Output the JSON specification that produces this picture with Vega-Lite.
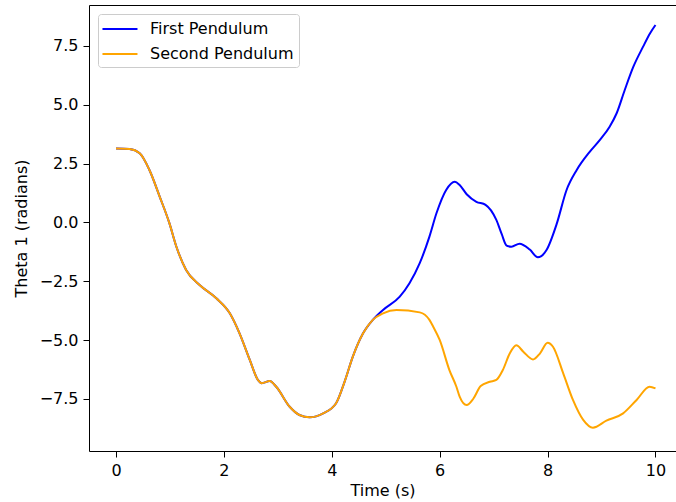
{
  "$schema": "https://vega.github.io/schema/vega-lite/v6.json",
  "width": 587,
  "height": 446,
  "autosize": "none",
  "padding": {"left": 89, "top": 5, "right": 0, "bottom": 51},
  "background": "white",
  "config": {
    "view": {"stroke": null},
    "font": "DejaVu Sans",
    "axis": {
      "grid": false,
      "domainColor": "black",
      "domainWidth": 1,
      "tickColor": "black",
      "tickSize": 6,
      "labelPadding": 5,
      "labelFont": "DejaVu Sans",
      "labelFontSize": 16,
      "labelColor": "black",
      "titleFont": "DejaVu Sans",
      "titleFontSize": 16,
      "titleFontWeight": "normal",
      "titleColor": "black"
    }
  },
  "datasets": {
    "pend": [
      {"t": 0, "theta": 3.14, "series": "First Pendulum"},
      {"t": 0.25, "theta": 3.12, "series": "First Pendulum"},
      {"t": 0.44, "theta": 2.94, "series": "First Pendulum"},
      {"t": 0.62, "theta": 2.23, "series": "First Pendulum"},
      {"t": 0.81, "theta": 1.1, "series": "First Pendulum"},
      {"t": 0.99, "theta": -0.03, "series": "First Pendulum"},
      {"t": 1.12, "theta": -1.03, "series": "First Pendulum"},
      {"t": 1.3, "theta": -2.02, "series": "First Pendulum"},
      {"t": 1.55, "theta": -2.66, "series": "First Pendulum"},
      {"t": 1.86, "theta": -3.22, "series": "First Pendulum"},
      {"t": 2.11, "theta": -3.86, "series": "First Pendulum"},
      {"t": 2.29, "theta": -4.71, "series": "First Pendulum"},
      {"t": 2.48, "theta": -5.84, "series": "First Pendulum"},
      {"t": 2.63, "theta": -6.69, "series": "First Pendulum"},
      {"t": 2.7, "theta": -6.83, "series": "First Pendulum"},
      {"t": 2.85, "theta": -6.74, "series": "First Pendulum"},
      {"t": 2.97, "theta": -6.98, "series": "First Pendulum"},
      {"t": 3.22, "theta": -7.83, "series": "First Pendulum"},
      {"t": 3.4, "theta": -8.18, "series": "First Pendulum"},
      {"t": 3.59, "theta": -8.28, "series": "First Pendulum"},
      {"t": 3.84, "theta": -8.11, "series": "First Pendulum"},
      {"t": 4.08, "theta": -7.68, "series": "First Pendulum"},
      {"t": 4.24, "theta": -6.75, "series": "First Pendulum"},
      {"t": 4.39, "theta": -5.7, "series": "First Pendulum"},
      {"t": 4.58, "theta": -4.71, "series": "First Pendulum"},
      {"t": 4.76, "theta": -4.14, "series": "First Pendulum"},
      {"t": 4.95, "theta": -3.72, "series": "First Pendulum"},
      {"t": 5.26, "theta": -3.15, "series": "First Pendulum"},
      {"t": 5.44, "theta": -2.58, "series": "First Pendulum"},
      {"t": 5.63, "theta": -1.73, "series": "First Pendulum"},
      {"t": 5.81, "theta": -0.6, "series": "First Pendulum"},
      {"t": 5.94, "theta": 0.39, "series": "First Pendulum"},
      {"t": 6.12, "theta": 1.38, "series": "First Pendulum"},
      {"t": 6.28, "theta": 1.73, "series": "First Pendulum"},
      {"t": 6.37, "theta": 1.59, "series": "First Pendulum"},
      {"t": 6.5, "theta": 1.2, "series": "First Pendulum"},
      {"t": 6.68, "theta": 0.88, "series": "First Pendulum"},
      {"t": 6.85, "theta": 0.75, "series": "First Pendulum"},
      {"t": 7.05, "theta": 0.11, "series": "First Pendulum"},
      {"t": 7.15, "theta": -0.5, "series": "First Pendulum"},
      {"t": 7.24, "theta": -0.98, "series": "First Pendulum"},
      {"t": 7.33, "theta": -1.03, "series": "First Pendulum"},
      {"t": 7.48, "theta": -0.9, "series": "First Pendulum"},
      {"t": 7.67, "theta": -1.15, "series": "First Pendulum"},
      {"t": 7.82, "theta": -1.48, "series": "First Pendulum"},
      {"t": 7.98, "theta": -1.17, "series": "First Pendulum"},
      {"t": 8.17, "theta": -0.05, "series": "First Pendulum"},
      {"t": 8.35, "theta": 1.37, "series": "First Pendulum"},
      {"t": 8.54, "theta": 2.23, "series": "First Pendulum"},
      {"t": 8.78, "theta": 3.0, "series": "First Pendulum"},
      {"t": 8.97, "theta": 3.51, "series": "First Pendulum"},
      {"t": 9.15, "theta": 4.07, "series": "First Pendulum"},
      {"t": 9.28, "theta": 4.64, "series": "First Pendulum"},
      {"t": 9.43, "theta": 5.63, "series": "First Pendulum"},
      {"t": 9.59, "theta": 6.62, "series": "First Pendulum"},
      {"t": 9.77, "theta": 7.47, "series": "First Pendulum"},
      {"t": 9.9, "theta": 8.04, "series": "First Pendulum"},
      {"t": 10.0, "theta": 8.39, "series": "First Pendulum"},
      {"t": 0, "theta": 3.14, "series": "Second Pendulum"},
      {"t": 0.25, "theta": 3.12, "series": "Second Pendulum"},
      {"t": 0.44, "theta": 2.94, "series": "Second Pendulum"},
      {"t": 0.62, "theta": 2.23, "series": "Second Pendulum"},
      {"t": 0.81, "theta": 1.1, "series": "Second Pendulum"},
      {"t": 0.99, "theta": -0.03, "series": "Second Pendulum"},
      {"t": 1.12, "theta": -1.03, "series": "Second Pendulum"},
      {"t": 1.3, "theta": -2.02, "series": "Second Pendulum"},
      {"t": 1.55, "theta": -2.66, "series": "Second Pendulum"},
      {"t": 1.86, "theta": -3.22, "series": "Second Pendulum"},
      {"t": 2.11, "theta": -3.86, "series": "Second Pendulum"},
      {"t": 2.29, "theta": -4.71, "series": "Second Pendulum"},
      {"t": 2.48, "theta": -5.84, "series": "Second Pendulum"},
      {"t": 2.63, "theta": -6.69, "series": "Second Pendulum"},
      {"t": 2.7, "theta": -6.83, "series": "Second Pendulum"},
      {"t": 2.85, "theta": -6.74, "series": "Second Pendulum"},
      {"t": 2.97, "theta": -6.98, "series": "Second Pendulum"},
      {"t": 3.22, "theta": -7.83, "series": "Second Pendulum"},
      {"t": 3.4, "theta": -8.18, "series": "Second Pendulum"},
      {"t": 3.59, "theta": -8.28, "series": "Second Pendulum"},
      {"t": 3.84, "theta": -8.11, "series": "Second Pendulum"},
      {"t": 4.08, "theta": -7.68, "series": "Second Pendulum"},
      {"t": 4.24, "theta": -6.75, "series": "Second Pendulum"},
      {"t": 4.39, "theta": -5.7, "series": "Second Pendulum"},
      {"t": 4.58, "theta": -4.71, "series": "Second Pendulum"},
      {"t": 4.76, "theta": -4.14, "series": "Second Pendulum"},
      {"t": 4.95, "theta": -3.86, "series": "Second Pendulum"},
      {"t": 5.2, "theta": -3.72, "series": "Second Pendulum"},
      {"t": 5.63, "theta": -3.82, "series": "Second Pendulum"},
      {"t": 5.81, "theta": -4.14, "series": "Second Pendulum"},
      {"t": 5.88, "theta": -4.43, "series": "Second Pendulum"},
      {"t": 6.0, "theta": -4.99, "series": "Second Pendulum"},
      {"t": 6.18, "theta": -6.27, "series": "Second Pendulum"},
      {"t": 6.31, "theta": -6.98, "series": "Second Pendulum"},
      {"t": 6.37, "theta": -7.4, "series": "Second Pendulum"},
      {"t": 6.5, "theta": -7.76, "series": "Second Pendulum"},
      {"t": 6.62, "theta": -7.5, "series": "Second Pendulum"},
      {"t": 6.76, "theta": -6.95, "series": "Second Pendulum"},
      {"t": 6.93, "theta": -6.77, "series": "Second Pendulum"},
      {"t": 7.05, "theta": -6.69, "series": "Second Pendulum"},
      {"t": 7.17, "theta": -6.27, "series": "Second Pendulum"},
      {"t": 7.3, "theta": -5.56, "series": "Second Pendulum"},
      {"t": 7.42, "theta": -5.22, "series": "Second Pendulum"},
      {"t": 7.55, "theta": -5.49, "series": "Second Pendulum"},
      {"t": 7.73, "theta": -5.82, "series": "Second Pendulum"},
      {"t": 7.86, "theta": -5.56, "series": "Second Pendulum"},
      {"t": 8.0, "theta": -5.11, "series": "Second Pendulum"},
      {"t": 8.1, "theta": -5.28, "series": "Second Pendulum"},
      {"t": 8.29, "theta": -6.41, "series": "Second Pendulum"},
      {"t": 8.47, "theta": -7.54, "series": "Second Pendulum"},
      {"t": 8.66, "theta": -8.39, "series": "Second Pendulum"},
      {"t": 8.84, "theta": -8.72, "series": "Second Pendulum"},
      {"t": 9.09, "theta": -8.42, "series": "Second Pendulum"},
      {"t": 9.4, "theta": -8.11, "series": "Second Pendulum"},
      {"t": 9.65, "theta": -7.54, "series": "Second Pendulum"},
      {"t": 9.89, "theta": -6.98, "series": "Second Pendulum"},
      {"t": 10.0, "theta": -7.05, "series": "Second Pendulum"}
    ]
  },
  "data": {"name": "pend"},
  "resolve": {"axis": {"x": "independent"}},
  "layer": [
    {
      "mark": {"type": "line", "strokeWidth": 2, "interpolate": "monotone", "clip": true},
      "encoding": {
        "x": {
          "field": "t", "type": "quantitative",
          "scale": {"domain": [-0.5, 10.38], "nice": false, "zero": false},
          "axis": {"values": [0, 2, 4, 6, 8, 10], "title": "Time (s)", "titlePadding": 4}
        },
        "y": {
          "field": "theta", "type": "quantitative",
          "scale": {"domain": [-9.71, 9.24], "nice": false, "zero": false},
          "axis": {"values": [-7.5, -5, -2.5, 0, 2.5, 5, 7.5], "format": ".1f", "title": "Theta 1 (radians)", "titlePadding": 10}
        },
        "color": {
          "field": "series", "type": "nominal",
          "scale": {"domain": ["First Pendulum", "Second Pendulum"], "range": ["#0000ff", "#ffa500"]},
          "legend": {
            "orient": "none", "legendX": 9, "legendY": 9, "title": null,
            "symbolType": "M-1.17,0H2.72", "symbolStrokeWidth": 2, "symbolSize": 324,
            "symbolFillColor": "transparent",
            "labelFontSize": 16, "labelFont": "DejaVu Sans", "labelColor": "black",
            "labelOffset": 27, "padding": 5, "rowPadding": 7,
            "strokeColor": "#cccccc", "fillColor": "white", "cornerRadius": 3
          }
        }
      }
    },
    {
      "mark": {"type": "point", "opacity": 0},
      "encoding": {
        "x": {
          "field": "t", "type": "quantitative",
          "scale": {"domain": [-0.5, 10.38], "nice": false, "zero": false},
          "axis": {"orient": "top", "labels": false, "ticks": false, "title": null, "domain": true}
        }
      }
    }
  ]
}
